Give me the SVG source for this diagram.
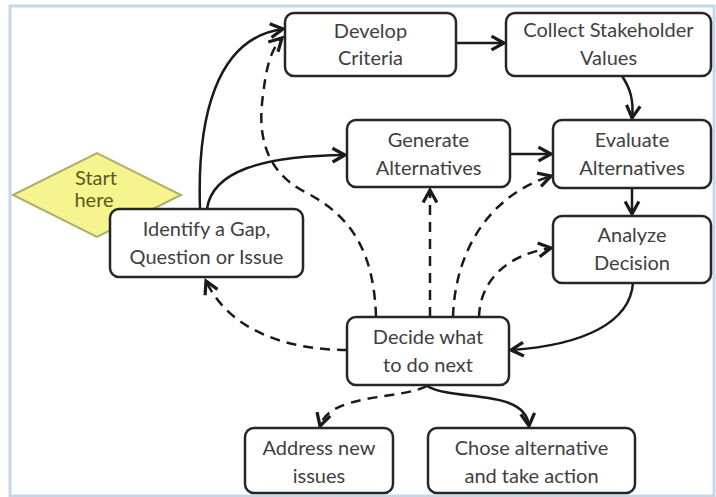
<svg xmlns="http://www.w3.org/2000/svg" width="716" height="497" viewBox="0 0 716 497">
<defs>
<marker id="arr" markerUnits="userSpaceOnUse" markerWidth="20" markerHeight="20" viewBox="-12 -8 16 16" refX="0" refY="0" orient="auto">
<path d="M-10,-5.5 L0,0 L-10,5.5" fill="none" stroke="#1a1a1a" stroke-width="2.6" stroke-dasharray="none" stroke-linejoin="miter"/>
</marker>
<style>
.node rect{fill:#ffffff;stroke:#262626;stroke-width:2.5}
.t{font-family:Lato,"Open Sans","Liberation Sans",sans-serif;font-size:20px;fill:#404040;text-anchor:middle}
.c{fill:none;stroke:#1a1a1a;stroke-width:2.5;marker-end:url(#arr)}
.d{stroke-dasharray:10 7}
</style>
</defs>
<rect x="0" y="0" width="716" height="497" fill="#ffffff"/>
<rect x="10" y="6" width="704" height="490" fill="#ffffff" stroke="#c6d6e9" stroke-width="3"/>

<g id="connectors">
<path class="c" d="M200,209 C197,120 215,38 283,29"/>
<path class="c" d="M207,209 C212,172 260,156 345,155"/>
<path class="c" d="M456,43 L504,43"/>
<path class="c" d="M622,76 C630,88 634,100 632,118"/>
<path class="c" d="M510,154 L551,154"/>
<path class="c" d="M632,188 L632,214"/>
<path class="c" d="M633,283 C630,322 585,345 511,350"/>
<path class="c" d="M427,386 C455,402 525,388 529,426"/>
<path class="c d" d="M376,317 C374,250 350,215 305,192 C262,170 258,130 263,95 C266,70 270,50 282,38"/>
<path class="c d" d="M430,317 L430,190"/>
<path class="c d" d="M453,317 C455,250 490,195 551,176"/>
<path class="c d" d="M479,317 C480,282 505,255 551,248"/>
<path class="c d" d="M347,350 C290,350 230,332 206,281"/>
<path class="c d" d="M427,386 C400,400 330,393 320,426"/>
</g>

<g id="start">
<polygon points="13,195 97,153 181,195 97,237" fill="#f6f48e" stroke="#aeae6a" stroke-width="2"/>
<text class="t" x="96" y="185" style="fill:#5a5a1c">Start</text>
<text class="t" x="94" y="207" style="fill:#5a5a1c">here</text>
</g>

<g id="identify" class="node">
<rect x="110" y="209" width="193" height="68" rx="9"/>
<text class="t" x="206.5" y="236">Identify a Gap,</text>
<text class="t" x="206.5" y="264">Question or Issue</text>
</g>

<g id="develop" class="node">
<rect x="285" y="13" width="171" height="63" rx="9"/>
<text class="t" x="370.5" y="38">Develop</text>
<text class="t" x="370.5" y="65">Criteria</text>
</g>

<g id="collect" class="node">
<rect x="506" y="13" width="205" height="63" rx="9"/>
<text class="t" x="608.5" y="37">Collect Stakeholder</text>
<text class="t" x="608.5" y="65">Values</text>
</g>

<g id="generate" class="node">
<rect x="347" y="120" width="163" height="67" rx="9"/>
<text class="t" x="428.5" y="147">Generate</text>
<text class="t" x="428.5" y="175">Alternatives</text>
</g>

<g id="evaluate" class="node">
<rect x="553" y="120" width="158" height="68" rx="9"/>
<text class="t" x="632" y="147">Evaluate</text>
<text class="t" x="632" y="175">Alternatives</text>
</g>

<g id="analyze" class="node">
<rect x="553" y="216" width="158" height="67" rx="9"/>
<text class="t" x="632" y="242">Analyze</text>
<text class="t" x="632" y="270">Decision</text>
</g>

<g id="decide" class="node">
<rect x="347" y="317" width="162" height="68" rx="9"/>
<text class="t" x="428" y="344">Decide what</text>
<text class="t" x="428" y="372">to do next</text>
</g>

<g id="address" class="node">
<rect x="245" y="428" width="148" height="65" rx="9"/>
<text class="t" x="319" y="455">Address new</text>
<text class="t" x="319" y="483">issues</text>
</g>

<g id="chose" class="node">
<rect x="428" y="428" width="207" height="65" rx="9"/>
<text class="t" x="531.5" y="455">Chose alternative</text>
<text class="t" x="531.5" y="483">and take action</text>
</g>
</svg>
